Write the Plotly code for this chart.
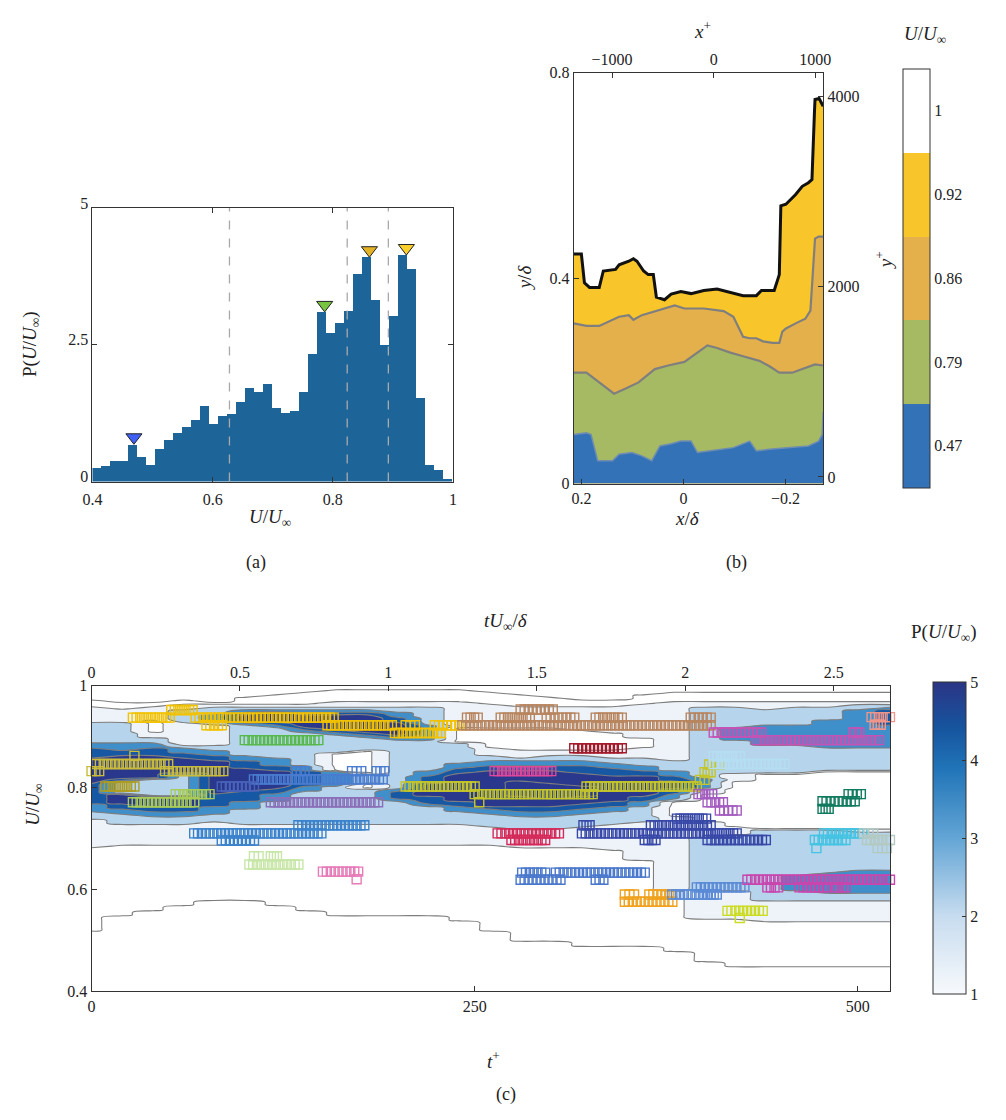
import numpy as np
import plotly.graph_objects as go

FONT = "Liberation Serif"

# ---------------- panel (a): histogram ----------------
HIST_CENTERS = [0.4075, 0.4225, 0.4375, 0.4525, 0.4675, 0.4825, 0.4975, 0.5125, 0.5275, 0.5425,
                0.5575, 0.5725, 0.5875, 0.6025, 0.6175, 0.6325, 0.6475, 0.6625, 0.6775, 0.6925,
                0.7075, 0.7225, 0.7375, 0.7525, 0.7675, 0.7825, 0.7975, 0.8125, 0.8275, 0.8425,
                0.8575, 0.8725, 0.8875, 0.9025, 0.9175, 0.9325, 0.9475, 0.9625, 0.9775, 0.9925]
HIST_P = [0.245, 0.287, 0.377, 0.377, 0.676, 0.449, 0.299, 0.586, 0.766, 0.891,
          0.999, 1.124, 1.382, 1.059, 1.202, 1.232, 1.447, 1.717, 1.645, 1.788,
          1.340, 1.250, 1.286, 1.645, 2.327, 3.098, 2.721, 2.901, 3.116, 3.798,
          4.103, 3.313, 2.488, 3.026, 4.139, 3.893, 1.519, 0.299, 0.209, 0.048]
HIST_WIDTH = 0.015
PEAK_U = [0.469, 0.7865, 0.861, 0.9225]
PEAK_P = [0.81, 3.23, 4.23, 4.27]
PEAK_COLORS = ["#3f5ff5", "#76c442", "#e4b225", "#fcd02a"]
DASH_U = [0.628, 0.824, 0.8925]

# ---------------- panel (b): layered regions ----------------
BLACK_X = [0.215, 0.200, 0.194, 0.184, 0.165, 0.157, 0.133, 0.126, 0.107, 0.098, 0.091, 0.078, 0.069,
           0.059, 0.053, 0.037, 0.024, 0.005, -0.015, -0.040, -0.066, -0.092, -0.117, -0.143, -0.153,
           -0.178, -0.188, -0.191, -0.201, -0.220, -0.233, -0.245, -0.252, -0.257, -0.258, -0.266, -0.274]
BLACK_Y = [0.447, 0.447, 0.391, 0.382, 0.382, 0.414, 0.417, 0.426, 0.433, 0.438, 0.433, 0.414, 0.407,
           0.407, 0.363, 0.358, 0.369, 0.374, 0.370, 0.376, 0.379, 0.372, 0.366, 0.366, 0.376,
           0.376, 0.407, 0.541, 0.544, 0.563, 0.579, 0.586, 0.592, 0.726, 0.748, 0.750, 0.735]
YO_X = [0.215, 0.190, 0.165, 0.146, 0.126, 0.107, 0.098, 0.0815, 0.049, 0.017, -0.002, -0.040, -0.079,
        -0.098, -0.117, -0.130, -0.143, -0.156, -0.175, -0.188, -0.194, -0.201, -0.220, -0.239, -0.249,
        -0.258, -0.265, -0.274]
YO_Y = [0.312, 0.307, 0.307, 0.315, 0.325, 0.328, 0.319, 0.328, 0.337, 0.347, 0.341, 0.341, 0.336,
        0.325, 0.286, 0.283, 0.283, 0.277, 0.274, 0.274, 0.296, 0.302, 0.312, 0.321, 0.337,
        0.477, 0.481, 0.481]
OG_X = [0.215, 0.190, 0.165, 0.136, 0.113, 0.088, 0.056, 0.030, -0.002, -0.0275, -0.047, -0.066, -0.092,
        -0.117, -0.149, -0.168, -0.188, -0.213, -0.239, -0.258, -0.274]
OG_Y = [0.216, 0.216, 0.197, 0.175, 0.185, 0.197, 0.223, 0.230, 0.237, 0.255, 0.269, 0.264, 0.255,
        0.248, 0.239, 0.229, 0.216, 0.216, 0.226, 0.232, 0.230]
GB_X = [0.215, 0.190, 0.181, 0.168, 0.139, 0.126, 0.101, 0.0815, 0.062, 0.046, 0.024, 0.005, -0.015,
        -0.0275, -0.053, -0.098, -0.130, -0.143, -0.168, -0.207, -0.245, -0.265, -0.272, -0.274]
GB_Y = [0.0955, 0.0987, 0.0955, 0.0446, 0.0446, 0.0573, 0.0605, 0.054, 0.0446, 0.0732, 0.0777, 0.0827,
        0.0827, 0.0605, 0.0637, 0.070, 0.0827, 0.0637, 0.0668, 0.070, 0.0732, 0.0827, 0.0955, 0.14]
B_LEVEL_LABELS = ["0.47", "0.79", "0.86", "0.92", "1"]
B_COLORS = ["#3472b8", "#a6b963", "#e4b04c", "#f8c62a", "#ffffff"]

# ---------------- panel (c): P(U/U_inf) map ----------------
W, L1, L2, L3, L4, L5, L6 = 0.75, 1.5, 2.5, 3.5, 4.5, 5.5, 6.5
T_COLS = [0, 20, 40, 60, 80, 100, 120, 140, 160, 180, 200, 220, 240, 260, 280, 300, 320, 340,
          360, 380, 400, 420, 440, 460, 480, 500, 522]
PROFILES = [
    [(0.52, 0.97, W), (0.685, 0.955, L1), (0.74, 0.925, L2), (0.755, 0.885, L3), (0.77, 0.875, L4), (0.81, 0.858, L5)],
    [(0.55, 0.967, W), (0.688, 0.95, L1), (0.73, 0.928, L2), (0.75, 0.887, L3), (0.76, 0.874, L4), (0.82, 0.86, L5),
     (0.77, 0.785, L5), (0.79, 0.81, L2)],
    [(0.56, 0.967, W), (0.688, 0.955, L1), (0.906, 0.93, W), (0.73, 0.895, L2), (0.745, 0.885, L3), (0.755, 0.875, L4),
     (0.815, 0.86, L5), (0.765, 0.785, L5), (0.785, 0.815, L2)],
    [(0.57, 0.97, W), (0.688, 0.96, L1), (0.93, 0.95, L2), (0.73, 0.883, L2), (0.745, 0.875, L3), (0.755, 0.865, L4),
     (0.826, 0.858, L5), (0.765, 0.784, L5), (0.784, 0.826, L2)],
    [(0.58, 0.967, W), (0.69, 0.96, L1), (0.925, 0.957, L2), (0.931, 0.944, L3), (0.735, 0.88, L2), (0.75, 0.87, L3),
     (0.765, 0.862, L4), (0.79, 0.85, L5)],
    [(0.58, 0.975, W), (0.69, 0.96, L1), (0.73, 0.957, L2), (0.922, 0.95, L3), (0.927, 0.945, L4), (0.93, 0.94, L5),
     (0.76, 0.862, L3), (0.775, 0.85, L4), (0.795, 0.835, L5)],
    [(0.57, 0.98, W), (0.69, 0.962, L1), (0.73, 0.958, L2), (0.918, 0.952, L3), (0.922, 0.948, L4), (0.927, 0.945, L5),
     (0.775, 0.855, L3), (0.79, 0.84, L4), (0.80, 0.83, L5)],
    [(0.56, 0.985, W), (0.69, 0.962, L1), (0.73, 0.957, L2), (0.91, 0.95, L3), (0.913, 0.947, L4), (0.917, 0.944, L5),
     (0.795, 0.84, L3), (0.805, 0.83, L4)],
    [(0.55, 0.99, W), (0.69, 0.965, L1), (0.73, 0.958, L2), (0.905, 0.95, L3), (0.91, 0.946, L4), (0.913, 0.943, L5),
     (0.805, 0.83, L3), (0.835, 0.868, W)],
    [(0.55, 0.99, W), (0.69, 0.965, L1), (0.73, 0.958, L2), (0.90, 0.952, L3), (0.905, 0.948, L4), (0.91, 0.944, L5),
     (0.826, 0.87, W), (0.797, 0.806, W)],
    [(0.55, 0.99, W), (0.69, 0.965, L1), (0.73, 0.958, L2), (0.895, 0.945, L3), (0.90, 0.935, L4), (0.905, 0.925, L5),
     (0.775, 0.795, L3), (0.78, 0.79, L4)],
    [(0.55, 0.99, W), (0.69, 0.965, L1), (0.73, 0.955, L2), (0.895, 0.92, L3), (0.765, 0.83, L3), (0.77, 0.82, L4),
     (0.785, 0.805, L5)],
    [(0.54, 0.99, W), (0.69, 0.965, L1), (0.73, 0.885, L2), (0.89, 0.915, W), (0.755, 0.845, L3), (0.765, 0.835, L4),
     (0.775, 0.825, L5)],
    [(0.52, 0.985, W), (0.688, 0.96, L1), (0.725, 0.862, L2), (0.878, 0.915, W), (0.75, 0.85, L3), (0.76, 0.84, L4),
     (0.765, 0.83, L5)],
    [(0.50, 0.98, W), (0.685, 0.958, L1), (0.72, 0.858, L2), (0.872, 0.915, W), (0.745, 0.85, L3), (0.755, 0.84, L4),
     (0.765, 0.83, L5), (0.785, 0.81, L6)],
    [(0.50, 0.975, W), (0.685, 0.955, L1), (0.72, 0.86, L2), (0.875, 0.915, W), (0.745, 0.852, L3), (0.755, 0.843, L4),
     (0.765, 0.83, L5), (0.78, 0.805, L6)],
    [(0.49, 0.97, W), (0.685, 0.955, L1), (0.725, 0.86, L2), (0.872, 0.91, W), (0.75, 0.852, L3), (0.758, 0.842, L4),
     (0.768, 0.828, L5), (0.785, 0.80, L6)],
    [(0.49, 0.97, W), (0.68, 0.955, L1), (0.73, 0.858, L2), (0.872, 0.905, W), (0.755, 0.845, L3), (0.765, 0.835, L4),
     (0.775, 0.823, L5)],
    [(0.49, 0.98, W), (0.66, 0.96, L1), (0.735, 0.855, L2), (0.88, 0.897, W), (0.765, 0.84, L3), (0.775, 0.83, L4),
     (0.785, 0.82, L5)],
    [(0.48, 0.985, W), (0.60, 0.965, L1), (0.76, 0.85, L2), (0.78, 0.83, L3), (0.79, 0.82, L4), (0.80, 0.81, L5),
     (0.745, 0.77, W)],
    [(0.46, 0.985, W), (0.545, 0.965, L1), (0.60, 0.70, L2), (0.80, 0.955, L2), (0.80, 0.815, L3), (0.735, 0.785, W)],
    [(0.45, 0.985, W), (0.545, 0.965, L1), (0.60, 0.705, L2), (0.83, 0.955, L2), (0.895, 0.915, L3), (0.725, 0.81, W)],
    [(0.45, 0.985, W), (0.54, 0.965, L1), (0.58, 0.715, L2), (0.826, 0.95, L2), (0.885, 0.92, L3), (0.72, 0.826, W)],
    [(0.45, 0.985, W), (0.54, 0.967, L1), (0.576, 0.717, L2), (0.60, 0.625, L3), (0.826, 0.955, L2), (0.885, 0.922, L3),
     (0.717, 0.826, W)],
    [(0.45, 0.985, W), (0.537, 0.967, L1), (0.576, 0.715, L2), (0.595, 0.633, L3), (0.826, 0.955, L2), (0.88, 0.93, L3),
     (0.717, 0.83, W)],
    [(0.45, 0.985, W), (0.537, 0.967, L1), (0.576, 0.712, L2), (0.595, 0.635, L3), (0.83, 0.96, L2), (0.877, 0.95, L3),
     (0.72, 0.832, W)],
    [(0.45, 0.985, W), (0.537, 0.967, L1), (0.576, 0.71, L2), (0.595, 0.638, L3), (0.83, 0.96, L2), (0.877, 0.955, L3),
     (0.925, 0.95, L4), (0.72, 0.832, W)],
]
T_PER_TU = 193.7  # t+ units per t U_inf / delta

# state tracks: (t+ start, t+ end, U/U_inf)
YELLOW_RUNS = [(27, 51, 0.937), (52, 66, 0.952), (68, 158, 0.937), (75, 85, 0.922), (154, 196, 0.922),
               (198, 228, 0.907), (205, 211, 0.922), (224, 240, 0.922)]
GREEN_RUNS = [(100, 148, 0.893)]
OLIVE_RUNS = [(3, 50, 0.846), (28, 28, 0.862), (0, 5, 0.832), (48, 86, 0.832)]
DARKOLIVE_RUNS = [(9, 28, 0.802)]
YELLOWGREEN_RUNS = [(27, 67, 0.771), (55, 77, 0.787)]
BLUEMID_RUNS = [(106, 190, 0.816), (134, 139, 0.832), (170, 176, 0.832), (186, 191, 0.832)]
BLUEMID2_RUNS = [(85, 106, 0.802)]
PURPLE_RUNS = [(117, 187, 0.771)]
BLUELOW_RUNS = [(67, 150, 0.71), (85, 106, 0.696), (135, 178, 0.726)]
PALEGREEN_RUNS = [(103, 135, 0.649), (106, 109, 0.665), (117, 121, 0.665)]
PINK_RUNS = [(151, 174, 0.635), (173, 173, 0.62)]
BROWN_RUNS = [(242, 404, 0.922), (245, 252, 0.937), (267, 286, 0.937), (280, 301, 0.953), (297, 315, 0.937),
              (329, 346, 0.937), (391, 404, 0.937)]
DARKRED_RUNS = [(315, 346, 0.877)]
LIMEOLIVE_RUNS = [(205, 250, 0.802), (250, 327, 0.787), (323, 395, 0.802), (253, 253, 0.771),
                  (397, 400, 0.815), (400, 404, 0.83), (403, 410, 0.845)]
ROSE_RUNS = [(263, 300, 0.832)]
CRIMSON_RUNS = [(265, 305, 0.71), (274, 296, 0.697)]
INDIGO_RUNS = [(320, 402, 0.71), (321, 325, 0.726), (365, 404, 0.726), (382, 401, 0.739), (402, 440, 0.697),
               (402, 421, 0.71), (361, 368, 0.697)]
BLUELOW2_RUNS = [(303, 361, 0.633), (280, 306, 0.619), (281, 296, 0.633), (329, 334, 0.619)]
ORANGE_RUNS = [(348, 379, 0.576), (348, 354, 0.59), (364, 377, 0.59)]
BLUELOW3_RUNS = [(379, 404, 0.59), (395, 426, 0.604), (404, 408, 0.59)]
LIME_RUNS = [(415, 438, 0.558), (423, 423, 0.544)]
PURPLE2_RUNS = [(396, 405, 0.787), (402, 412, 0.771), (410, 421, 0.755)]
MAGENTAUP_RUNS = [(406, 437, 0.908), (434, 514, 0.893), (497, 501, 0.908)]
LIGHTBLUE_RUNS = [(406, 423, 0.861), (406, 452, 0.846)]
TEAL_RUNS = [(477, 498, 0.773), (494, 502, 0.787), (477, 481, 0.758)]
CYAN_RUNS = [(478, 503, 0.71), (472, 492, 0.697), (473, 473, 0.681)]
GRAYGREEN_RUNS = [(504, 510, 0.71), (506, 521, 0.697), (513, 519, 0.681)]
MAGENTALOW_RUNS = [(428, 521, 0.619), (441, 448, 0.604), (462, 480, 0.604), (485, 492, 0.604)]
SALMON_RUNS = [(509, 521, 0.938), (511, 515, 0.923)]

TRACKS = [
    ("#f2c200", YELLOW_RUNS), ("#56b94a", GREEN_RUNS), ("#c9bc3a", OLIVE_RUNS), ("#ad9d22", DARKOLIVE_RUNS),
    ("#a8cc58", YELLOWGREEN_RUNS), ("#4a7cd0", BLUEMID_RUNS), ("#4862b8", BLUEMID2_RUNS), ("#8a6fb8", PURPLE_RUNS),
    ("#3b82cc", BLUELOW_RUNS), ("#c8e6a8", PALEGREEN_RUNS), ("#e77bb8", PINK_RUNS), ("#b8855f", BROWN_RUNS),
    ("#a31a2a", DARKRED_RUNS), ("#c3c52a", LIMEOLIVE_RUNS), ("#e0479a", ROSE_RUNS), ("#d42a5a", CRIMSON_RUNS),
    ("#3848a8", INDIGO_RUNS), ("#4a78cc", BLUELOW2_RUNS), ("#f0a21e", ORANGE_RUNS), ("#5b8ad6", BLUELOW3_RUNS),
    ("#ccdc22", LIME_RUNS), ("#a45cc0", PURPLE2_RUNS), ("#c553b5", MAGENTAUP_RUNS), ("#b5def2", LIGHTBLUE_RUNS),
    ("#0f7a5e", TEAL_RUNS), ("#45c3e2", CYAN_RUNS), ("#b3c9c2", GRAYGREEN_RUNS), ("#c846ad", MAGENTALOW_RUNS),
    ("#f0958a", SALMON_RUNS),
]

# ---------------- helpers ----------------
W_PX, H_PX = 1006, 1120


def px(x):
    return x / W_PX


def py(y):
    return 1 - y / H_PX


def expand(runs, step=2.5):
    ts, us = [], []
    for t0, t1, u in runs:
        n = max(1, int(round((t1 - t0) / step)) + 1)
        ts.extend(np.linspace(t0, t1, n).tolist())
        us.extend([u] * n)
    return ts, us


fig = go.Figure()

# ---- (a)
fig.add_trace(go.Bar(x=HIST_CENTERS, y=HIST_P, width=HIST_WIDTH, marker=dict(color="#1d6599", line=dict(width=0)),
                     xaxis="x", yaxis="y", hoverinfo="skip"))
for u in DASH_U:
    fig.add_trace(go.Scatter(x=[u, u], y=[0, 5], mode="lines", line=dict(color="#a9a9a9", width=1.3, dash="dash"),
                             xaxis="x", yaxis="y", hoverinfo="skip"))
fig.add_trace(go.Scatter(x=PEAK_U, y=PEAK_P, mode="markers", xaxis="x", yaxis="y", cliponaxis=False,
                         marker=dict(symbol="triangle-down", size=14, color=PEAK_COLORS,
                                     line=dict(color="#222", width=1)), hoverinfo="skip"))

# ---- (b)
fig.add_trace(go.Scatter(x=BLACK_X, y=BLACK_Y, mode="lines", fill="tozeroy", fillcolor=B_COLORS[3],
                         line=dict(color="#111", width=3), xaxis="x2", yaxis="y2", hoverinfo="skip"))
fig.add_trace(go.Scatter(x=YO_X, y=YO_Y, mode="lines", fill="tozeroy", fillcolor=B_COLORS[2],
                         line=dict(color="#7f7f7f", width=2.2), xaxis="x2", yaxis="y2", hoverinfo="skip"))
fig.add_trace(go.Scatter(x=OG_X, y=OG_Y, mode="lines", fill="tozeroy", fillcolor=B_COLORS[1],
                         line=dict(color="#7f7f7f", width=2.2), xaxis="x2", yaxis="y2", hoverinfo="skip"))
fig.add_trace(go.Scatter(x=GB_X, y=GB_Y, mode="lines", fill="tozeroy", fillcolor=B_COLORS[0],
                         line=dict(color="#6f8db0", width=1.5), xaxis="x2", yaxis="y2", hoverinfo="skip"))
fig.add_trace(go.Scatter(x=[-1377, 1077], y=[-70, 4250], mode="markers", marker=dict(opacity=0),
                         xaxis="x3", yaxis="y3", hoverinfo="skip"))
b_cs = []
for i, c in enumerate(B_COLORS):
    b_cs += [[i / 5, c], [(i + 1) / 5, c]]
fig.add_trace(go.Scatter(x=[10], y=[10], mode="markers", xaxis="x2", yaxis="y2", hoverinfo="skip",
                         marker=dict(color=[0.5], cmin=0, cmax=5, colorscale=b_cs, showscale=True,
                                     colorbar=dict(thickness=27, thicknessmode="pixels", len=419, lenmode="pixels",
                                                   x=px(909), xanchor="left", y=py(270.5), yanchor="middle",
                                                   xpad=0, ypad=0, outlinewidth=1, outlinecolor="#333",
                                                   tickvals=[0.5, 1.5, 2.5, 3.5, 4.5], ticktext=B_LEVEL_LABELS,
                                                   ticks="", tickfont=dict(family=FONT, size=16, color="#222")))))

# ---- (c)
U_GRID = np.round(np.arange(0.40, 1.00001, 0.005), 3)
Z = np.zeros((len(U_GRID), len(T_COLS)))
for j, segs in enumerate(PROFILES):
    for lo, hi, lev in segs:
        Z[(U_GRID >= lo - 1e-9) & (U_GRID <= hi + 1e-9), j] = lev

CW, C1, C2, C3, C4, C5 = "#ffffff", "#edf3f8", "#b6d4eb", "#3f8fcb", "#1758a5", "#29388d"
CS = [[0, CW], [1 / 12, CW], [1 / 12, C1], [3 / 12, C1], [3 / 12, C2], [5 / 12, C2], [5 / 12, C3], [7 / 12, C3],
      [7 / 12, C4], [9 / 12, C4], [9 / 12, C5], [1, C5]]
fig.add_trace(go.Contour(x=T_COLS, y=U_GRID, z=Z, contours=dict(start=1, end=6, size=1, coloring="fill"),
                         colorscale=CS, showscale=False, line=dict(color="#7d7d7d", width=1.1, smoothing=1.2),
                         xaxis="x4", yaxis="y4", hoverinfo="skip"))
fig.add_trace(go.Contour(x=T_COLS, y=U_GRID, z=Z, contours=dict(start=0.5, end=0.5, size=1, coloring="none"),
                         showscale=False, line=dict(color="#7d7d7d", width=1.1, smoothing=1.2),
                         xaxis="x4", yaxis="y4", hoverinfo="skip"))
for color, runs in TRACKS:
    ts, us = expand(runs)
    fig.add_trace(go.Scatter(x=ts, y=us, mode="markers", xaxis="x4", yaxis="y4", cliponaxis=False, hoverinfo="skip",
                             marker=dict(symbol="square-open", size=9, color=color, line=dict(width=1.4))))
fig.add_trace(go.Scatter(x=[0, 521 / T_PER_TU], y=[0.5, 0.5], mode="markers", marker=dict(opacity=0),
                         xaxis="x5", yaxis="y4", hoverinfo="skip"))
C_CS = [[0, "#f7f9fc"], [0.25, "#c7dcef"], [0.5, "#63a5d5"], [0.72, "#2175b8"], [0.85, "#16559f"], [1, "#2b3585"]]
fig.add_trace(go.Scatter(x=[-100], y=[-100], mode="markers", xaxis="x4", yaxis="y4", hoverinfo="skip",
                         marker=dict(color=[1], cmin=1, cmax=5, colorscale=C_CS, showscale=True,
                                     colorbar=dict(thickness=33, thicknessmode="pixels", len=312, lenmode="pixels",
                                                   x=px(940), xanchor="left", y=py(842), yanchor="middle",
                                                   xpad=0, ypad=0, outlinewidth=1, outlinecolor="#333",
                                                   tickvals=[1, 2, 3, 4, 5], ticks="inside", ticklen=4,
                                                   tickcolor="#333",
                                                   tickfont=dict(family=FONT, size=16, color="#222")))))

# ---------------- layout ----------------
ax = dict(showgrid=False, zeroline=False, showline=True, linecolor="#333", linewidth=1, ticks="inside",
          ticklen=5, tickcolor="#333", tickfont=dict(family=FONT, size=16, color="#222"))

fig.update_layout(
    width=W_PX, height=H_PX, margin=dict(l=0, r=0, t=0, b=0), paper_bgcolor="white", plot_bgcolor="white",
    showlegend=False, bargap=0, font=dict(family=FONT, size=16, color="#222"),
    xaxis=dict(ax, domain=[px(84), px(451)], anchor="y", range=[0.4, 1.0], tickvals=[0.4, 0.6, 0.8, 1.0],
               ticktext=["0.4", "0.6", "0.8", "1"], mirror="ticks", ticklabelstandoff=3),
    yaxis=dict(ax, domain=[py(478), py(199)], anchor="x", range=[0, 5], tickvals=[0, 2.5, 5],
               ticktext=["0", "2.5", "5"], mirror="ticks", ticklabelshift=-5),
    xaxis2=dict(ax, domain=[px(574), px(828)], anchor="y2", range=[0.215, -0.274], tickvals=[0.2, 0, -0.2],
                ticktext=["0.2", "0", "\u22120.2"], mirror=True),
    yaxis2=dict(ax, domain=[py(480), py(61)], anchor="x2", range=[0, 0.8], tickvals=[0, 0.4, 0.8],
                ticktext=["0", "0.4", "0.8"], mirror=True),
    xaxis3=dict(ax, overlaying="x2", side="top", anchor="y2", range=[-1377, 1077], tickvals=[-1000, 0, 1000],
                ticktext=["\u22121000", "0", "1000"]),
    yaxis3=dict(ax, overlaying="y2", side="right", anchor="x2", range=[-70, 4250], tickvals=[0, 2000, 4000],
                ticktext=["0", "2000", "4000"]),
    xaxis4=dict(ax, domain=[px(83), px(896)], anchor="y4", range=[0, 521], tickvals=[0, 250, 500],
                ticktext=["0", "250", "500"], mirror=True),
    yaxis4=dict(ax, domain=[py(998), py(686)], anchor="x4", range=[0.4, 1.0], tickvals=[0.4, 0.6, 0.8, 1.0],
                ticktext=["0.4", "0.6", "0.8", "1"], mirror=True),
    xaxis5=dict(ax, overlaying="x4", side="top", anchor="y4", range=[0, 521 / T_PER_TU],
                tickvals=[0, 0.5, 1, 1.5, 2, 2.5], ticktext=["0", "0.5", "1", "1.5", "2", "2.5"]),
)

UU = "<i>U</i>/<i>U</i><sub>\u221e</sub>"
ann = [
    (265, 515, UU, 0, 19),
    (22, 338, "P(" + UU + ")", -90, 19),
    (250, 560, "(a)", 0, 18),
    (690, 516, "<i>x</i>/<i>\u03b4</i>", 0, 19),
    (524, 270, "<i>y</i>/<i>\u03b4</i>", -90, 19),
    (705, 17, "<i>x</i><sup>+</sup>", 0, 19),
    (890, 252, "<i>y</i><sup>+</sup>", -90, 19),
    (932, 22, UU, 0, 19),
    (740, 560, "(b)", 0, 18),
    (505, 621, "<i>tU</i><sub>\u221e</sub>/<i>\u03b4</i>", 0, 19),
    (492, 1068, "<i>t</i><sup>+</sup>", 0, 19),
    (25, 808, UU, -90, 19),
    (950, 632, "P(" + UU + ")", 0, 19),
    (505, 1103, "(c)", 0, 18),
]
for x, y, text, ang, size in ann:
    fig.add_annotation(x=px(x), y=py(y), xref="paper", yref="paper", text=text, showarrow=False,
                       textangle=ang, xanchor="center", yanchor="middle",
                       font=dict(family=FONT, size=size, color="#222"))

fig.write_html("out.html")
